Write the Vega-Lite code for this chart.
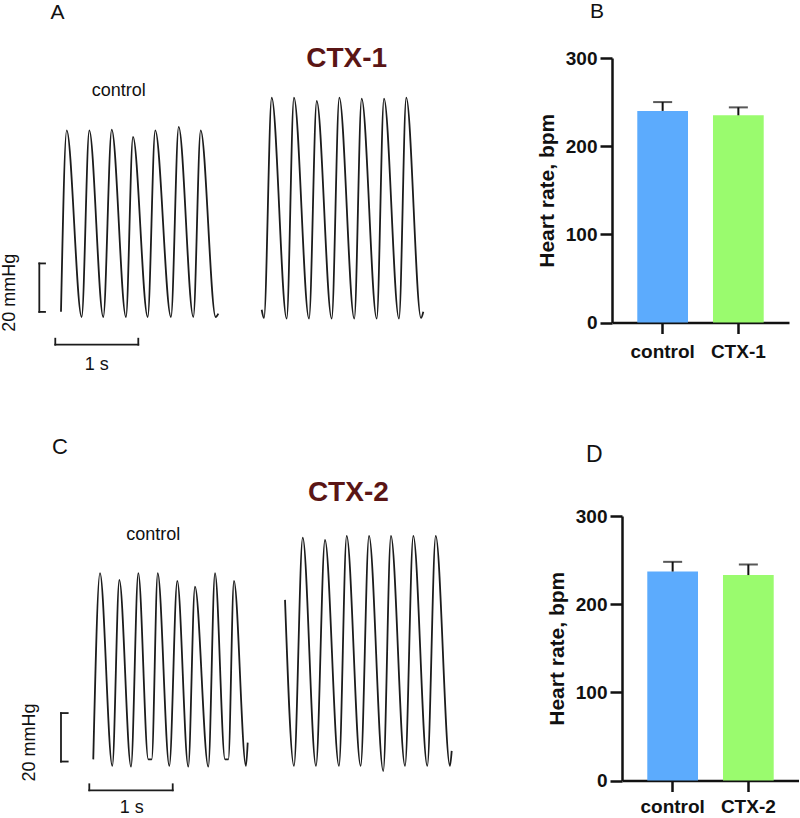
{
  "$schema": "https://vega.github.io/schema/vega-lite/v6.json",
  "padding": 0,
  "background": "white",
  "config": {"view": {"stroke": null}, "font": "Liberation Sans"},
  "datasets": {
    "traceA": [
      {"series": "control", "t": 0.737, "p": 5.9}, {"series": "control", "t": 0.806, "p": 80.7},
      {"series": "control", "t": 0.987, "p": 3.7}, {"series": "control", "t": 1.079, "p": 80.7},
      {"series": "control", "t": 1.248, "p": 3.7}, {"series": "control", "t": 1.35, "p": 81.0},
      {"series": "control", "t": 1.522, "p": 3.7}, {"series": "control", "t": 1.607, "p": 78.0},
      {"series": "control", "t": 1.785, "p": 3.7}, {"series": "control", "t": 1.876, "p": 80.7},
      {"series": "control", "t": 2.066, "p": 3.7}, {"series": "control", "t": 2.159, "p": 82.1},
      {"series": "control", "t": 2.336, "p": 3.7}, {"series": "control", "t": 2.425, "p": 80.7},
      {"series": "control", "t": 2.606, "p": 3.7}, {"series": "control", "t": 2.638, "p": 5.1},
      {"series": "CTX-1", "t": 3.162, "p": 6.7}, {"series": "CTX-1", "t": 3.19, "p": 3.3},
      {"series": "CTX-1", "t": 3.283, "p": 94.2}, {"series": "CTX-1", "t": 3.464, "p": 3.0},
      {"series": "CTX-1", "t": 3.552, "p": 94.2}, {"series": "CTX-1", "t": 3.734, "p": 3.0},
      {"series": "CTX-1", "t": 3.827, "p": 92.8}, {"series": "CTX-1", "t": 4.008, "p": 3.0},
      {"series": "CTX-1", "t": 4.1, "p": 94.2}, {"series": "CTX-1", "t": 4.281, "p": 3.0},
      {"series": "CTX-1", "t": 4.37, "p": 93.8}, {"series": "CTX-1", "t": 4.552, "p": 3.0},
      {"series": "CTX-1", "t": 4.64, "p": 93.8}, {"series": "CTX-1", "t": 4.821, "p": 3.0},
      {"series": "CTX-1", "t": 4.909, "p": 94.2}, {"series": "CTX-1", "t": 5.087, "p": 3.3},
      {"series": "CTX-1", "t": 5.115, "p": 5.9}
    ],
    "traceC": [
      {"series": "control", "t": 1.127, "p": 6.4}, {"series": "control", "t": 1.208, "p": 83.2},
      {"series": "control", "t": 1.357, "p": 3.7}, {"series": "control", "t": 1.442, "p": 80.4},
      {"series": "control", "t": 1.583, "p": 3.4}, {"series": "control", "t": 1.671, "p": 83.2},
      {"series": "control", "t": 1.792, "p": 6.4}, {"series": "control", "t": 1.833, "p": 6.4},
      {"series": "control", "t": 1.906, "p": 83.2}, {"series": "control", "t": 2.046, "p": 3.7},
      {"series": "control", "t": 2.142, "p": 80.0}, {"series": "control", "t": 2.275, "p": 3.4},
      {"series": "control", "t": 2.356, "p": 77.7}, {"series": "control", "t": 2.517, "p": 3.4},
      {"series": "control", "t": 2.598, "p": 83.2}, {"series": "control", "t": 2.719, "p": 6.4},
      {"series": "control", "t": 2.759, "p": 6.4}, {"series": "control", "t": 2.827, "p": 80.0},
      {"series": "control", "t": 2.972, "p": 3.7}, {"series": "control", "t": 2.993, "p": 13.3},
      {"series": "CTX-2", "t": 3.444, "p": 72.2}, {"series": "CTX-2", "t": 3.552, "p": 3.7},
      {"series": "CTX-2", "t": 3.658, "p": 97.9}, {"series": "CTX-2", "t": 3.818, "p": 3.7},
      {"series": "CTX-2", "t": 3.927, "p": 96.9}, {"series": "CTX-2", "t": 4.096, "p": 3.7},
      {"series": "CTX-2", "t": 4.189, "p": 98.6}, {"series": "CTX-2", "t": 4.358, "p": 3.7},
      {"series": "CTX-2", "t": 4.459, "p": 98.6}, {"series": "CTX-2", "t": 4.631, "p": 1.6},
      {"series": "CTX-2", "t": 4.724, "p": 98.6}, {"series": "CTX-2", "t": 4.894, "p": 3.7},
      {"series": "CTX-2", "t": 4.994, "p": 98.6}, {"series": "CTX-2", "t": 5.163, "p": 3.7},
      {"series": "CTX-2", "t": 5.265, "p": 98.6}, {"series": "CTX-2", "t": 5.437, "p": 3.7},
      {"series": "CTX-2", "t": 5.458, "p": 9.9}
    ],
    "barB": [
      {"group": "control", "hr": 240, "upper": 250},
      {"group": "CTX-1", "hr": 235, "upper": 244}
    ],
    "barD": [
      {"group": "control", "hr": 237, "upper": 248},
      {"group": "CTX-2", "hr": 233, "upper": 245}
    ]
  },
  "resolve": {"scale": {"x": "independent", "y": "independent", "color": "independent"}},
  "spacing": 37,
  "vconcat": [
    {
      "spacing": 56,
      "resolve": {"scale": {"x": "independent", "y": "independent", "color": "independent"}},
      "hconcat": [
        {
          "width": 480,
          "height": 340.7,
          "layer": [
            {"data": {"name": "traceA"}, "mark": {"type": "line", "interpolate": "monotone", "color": "#1c1c1c", "strokeWidth": 1.8},
             "encoding": {"x": {"field": "t", "type": "quantitative", "scale": {"domain": [0, 5.8], "nice": false, "zero": false}, "axis": null},
                          "y": {"field": "p", "type": "quantitative", "scale": {"domain": [-30, 110.54], "nice": false, "zero": false}, "axis": null},
                          "detail": {"field": "series"}}},
            {"data": {"values": [{}]}, "mark": {"type": "rule", "color": "#1c1c1c", "strokeWidth": 1.8, "strokeCap": "square"},
             "encoding": {"x": {"datum": 0.475, "type": "quantitative", "scale": {"domain": [0, 5.8], "nice": false, "zero": false}, "axis": null},
                          "y": {"datum": 5.8, "type": "quantitative", "scale": {"domain": [-30, 110.54], "nice": false, "zero": false}, "axis": null},
                          "y2": {"datum": 25.8}}},
            {"data": {"values": [{}]}, "mark": {"type": "rule", "color": "#1c1c1c", "strokeWidth": 1.8, "strokeCap": "square"},
             "encoding": {"x": {"datum": 0.475, "type": "quantitative", "scale": {"domain": [0, 5.8], "nice": false, "zero": false}, "axis": null},
                          "x2": {"datum": 0.544},
                          "y": {"datum": 25.8, "type": "quantitative", "scale": {"domain": [-30, 110.54], "nice": false, "zero": false}, "axis": null}}},
            {"data": {"values": [{}]}, "mark": {"type": "rule", "color": "#1c1c1c", "strokeWidth": 1.8, "strokeCap": "square"},
             "encoding": {"x": {"datum": 0.475, "type": "quantitative", "scale": {"domain": [0, 5.8], "nice": false, "zero": false}, "axis": null},
                          "x2": {"datum": 0.544},
                          "y": {"datum": 5.8, "type": "quantitative", "scale": {"domain": [-30, 110.54], "nice": false, "zero": false}, "axis": null}}},
            {"data": {"values": [{}]}, "mark": {"type": "rule", "color": "#1c1c1c", "strokeWidth": 1.8, "strokeCap": "square"},
             "encoding": {"x": {"datum": 0.668, "type": "quantitative", "scale": {"domain": [0, 5.8], "nice": false, "zero": false}, "axis": null},
                          "x2": {"datum": 1.671},
                          "y": {"datum": -7.72, "type": "quantitative", "scale": {"domain": [-30, 110.54], "nice": false, "zero": false}, "axis": null}}},
            {"data": {"values": [{}]}, "mark": {"type": "rule", "color": "#1c1c1c", "strokeWidth": 1.8, "strokeCap": "square"},
             "encoding": {"x": {"datum": 0.668, "type": "quantitative", "scale": {"domain": [0, 5.8], "nice": false, "zero": false}, "axis": null},
                          "y": {"datum": -7.72, "type": "quantitative", "scale": {"domain": [-30, 110.54], "nice": false, "zero": false}, "axis": null},
                          "y2": {"datum": -5.25}}},
            {"data": {"values": [{}]}, "mark": {"type": "rule", "color": "#1c1c1c", "strokeWidth": 1.8, "strokeCap": "square"},
             "encoding": {"x": {"datum": 1.671, "type": "quantitative", "scale": {"domain": [0, 5.8], "nice": false, "zero": false}, "axis": null},
                          "y": {"datum": -7.72, "type": "quantitative", "scale": {"domain": [-30, 110.54], "nice": false, "zero": false}, "axis": null},
                          "y2": {"datum": -5.25}}},
            {"data": {"values": [{}]}, "mark": {"type": "text", "text": "A", "font": "Liberation Sans", "fontSize": 21, "color": "#111111", "baseline": "middle", "align": "center"},
             "encoding": {"x": {"datum": 0.695, "type": "quantitative", "scale": {"domain": [0, 5.8], "nice": false, "zero": false}, "axis": null},
                          "y": {"datum": 129.3, "type": "quantitative", "scale": {"domain": [-30, 110.54], "nice": false, "zero": false}, "axis": null}}},
            {"data": {"values": [{}]}, "mark": {"type": "text", "text": "control", "font": "Liberation Sans", "fontSize": 18, "color": "#111111", "baseline": "middle", "align": "center"},
             "encoding": {"x": {"datum": 1.435, "type": "quantitative", "scale": {"domain": [0, 5.8], "nice": false, "zero": false}, "axis": null},
                          "y": {"datum": 96.76, "type": "quantitative", "scale": {"domain": [-30, 110.54], "nice": false, "zero": false}, "axis": null}}},
            {"data": {"values": [{}]}, "mark": {"type": "text", "text": "CTX-1", "font": "Liberation Sans", "fontSize": 28, "fontWeight": "bold", "color": "#5a1515", "baseline": "middle", "align": "center"},
             "encoding": {"x": {"datum": 4.189, "type": "quantitative", "scale": {"domain": [0, 5.8], "nice": false, "zero": false}, "axis": null},
                          "y": {"datum": 110.25, "type": "quantitative", "scale": {"domain": [-30, 110.54], "nice": false, "zero": false}, "axis": null}}},
            {"data": {"values": [{}]}, "mark": {"type": "text", "text": "1 s", "font": "Liberation Sans", "fontSize": 18, "color": "#111111", "baseline": "middle", "align": "center"},
             "encoding": {"x": {"datum": 1.168, "type": "quantitative", "scale": {"domain": [0, 5.8], "nice": false, "zero": false}, "axis": null},
                          "y": {"datum": -16.26, "type": "quantitative", "scale": {"domain": [-30, 110.54], "nice": false, "zero": false}, "axis": null}}},
            {"data": {"values": [{}]}, "mark": {"type": "text", "text": "20 mmHg", "font": "Liberation Sans", "fontSize": 18, "color": "#111111", "baseline": "middle", "align": "center", "angle": 270},
             "encoding": {"x": {"datum": 0.121, "type": "quantitative", "scale": {"domain": [0, 5.8], "nice": false, "zero": false}, "axis": null},
                          "y": {"datum": 13.73, "type": "quantitative", "scale": {"domain": [-30, 110.54], "nice": false, "zero": false}, "axis": null}}}
          ]
        },
        {
          "width": 177,
          "height": 264.5,
          "title": {"text": "B", "anchor": "start", "frame": "group", "dx": -22, "offset": 10.5, "fontSize": 21, "fontWeight": "normal", "font": "Liberation Sans", "baseline": "alphabetic", "color": "#111111"},
          "data": {"name": "barB"},
          "encoding": {
            "x": {"field": "group", "type": "nominal", "sort": null, "scale": {"paddingInner": 0.33, "paddingOuter": 0.334},
                  "axis": {"title": null, "labelAngle": 0, "labelFont": "Liberation Sans", "labelFontSize": 19, "labelFontWeight": "bold", "labelColor": "#111111", "labelPadding": 9, "tickSize": 11, "tickWidth": 2.5, "tickColor": "#111111", "domainWidth": 2.5, "domainColor": "#111111", "grid": false}}
          },
          "layer": [
            {"mark": {"type": "bar"},
             "encoding": {
               "y": {"field": "hr", "type": "quantitative", "scale": {"domain": [0, 300], "nice": false},
                     "axis": {"title": "Heart rate, bpm", "values": [0, 100, 200, 300], "titleFont": "Liberation Sans", "titleFontSize": 21, "titleFontWeight": "bold", "titleColor": "#111111", "titlePadding": 8, "labelFont": "Liberation Sans", "labelFontSize": 19, "labelFontWeight": "bold", "labelColor": "#111111", "labelPadding": 3, "tickSize": 12, "tickWidth": 2.5, "tickColor": "#111111", "domainWidth": 2.5, "domainColor": "#111111", "grid": false}},
               "color": {"field": "group", "type": "nominal", "scale": {"domain": ["control", "CTX-1", "CTX-2"], "range": ["#5cabfd", "#9afb6e", "#9afb6e"]}, "legend": null}
             }},
            {"mark": {"type": "rule", "color": "#111111", "strokeWidth": 2},
             "encoding": {"y": {"field": "hr", "type": "quantitative"}, "y2": {"field": "upper"}}},
            {"mark": {"type": "tick", "color": "#111111", "size": 19, "thickness": 2},
             "encoding": {"y": {"field": "upper", "type": "quantitative"}}}
          ]
        }
      ]
    },
    {
      "spacing": 66,
      "resolve": {"scale": {"x": "independent", "y": "independent", "color": "independent"}},
      "hconcat": [
        {
          "width": 480,
          "height": 301.3,
          "layer": [
            {"data": {"name": "traceC"}, "mark": {"type": "line", "interpolate": "monotone", "color": "#1c1c1c", "strokeWidth": 1.8},
             "encoding": {"x": {"field": "t", "type": "quantitative", "scale": {"domain": [0, 5.8], "nice": false, "zero": false}, "axis": null},
                          "y": {"field": "p", "type": "quantitative", "scale": {"domain": [-17.5, 106.8], "nice": false, "zero": false}, "axis": null},
                          "detail": {"field": "series"}}},
            {"data": {"values": [{}]}, "mark": {"type": "rule", "color": "#1c1c1c", "strokeWidth": 1.8, "strokeCap": "square"},
             "encoding": {"x": {"datum": 0.737, "type": "quantitative", "scale": {"domain": [0, 5.8], "nice": false, "zero": false}, "axis": null},
                          "y": {"datum": 5.5, "type": "quantitative", "scale": {"domain": [-17.5, 106.8], "nice": false, "zero": false}, "axis": null},
                          "y2": {"datum": 25.5}}},
            {"data": {"values": [{}]}, "mark": {"type": "rule", "color": "#1c1c1c", "strokeWidth": 1.8, "strokeCap": "square"},
             "encoding": {"x": {"datum": 0.737, "type": "quantitative", "scale": {"domain": [0, 5.8], "nice": false, "zero": false}, "axis": null},
                          "x2": {"datum": 0.818},
                          "y": {"datum": 25.5, "type": "quantitative", "scale": {"domain": [-17.5, 106.8], "nice": false, "zero": false}, "axis": null}}},
            {"data": {"values": [{}]}, "mark": {"type": "rule", "color": "#1c1c1c", "strokeWidth": 1.8, "strokeCap": "square"},
             "encoding": {"x": {"datum": 0.737, "type": "quantitative", "scale": {"domain": [0, 5.8], "nice": false, "zero": false}, "axis": null},
                          "x2": {"datum": 0.818},
                          "y": {"datum": 5.5, "type": "quantitative", "scale": {"domain": [-17.5, 106.8], "nice": false, "zero": false}, "axis": null}}},
            {"data": {"values": [{}]}, "mark": {"type": "rule", "color": "#1c1c1c", "strokeWidth": 1.8, "strokeCap": "square"},
             "encoding": {"x": {"datum": 1.079, "type": "quantitative", "scale": {"domain": [0, 5.8], "nice": false, "zero": false}, "axis": null},
                          "x2": {"datum": 2.087},
                          "y": {"datum": -6.36, "type": "quantitative", "scale": {"domain": [-17.5, 106.8], "nice": false, "zero": false}, "axis": null}}},
            {"data": {"values": [{}]}, "mark": {"type": "rule", "color": "#1c1c1c", "strokeWidth": 1.8, "strokeCap": "square"},
             "encoding": {"x": {"datum": 1.079, "type": "quantitative", "scale": {"domain": [0, 5.8], "nice": false, "zero": false}, "axis": null},
                          "y": {"datum": -6.36, "type": "quantitative", "scale": {"domain": [-17.5, 106.8], "nice": false, "zero": false}, "axis": null},
                          "y2": {"datum": -3.88}}},
            {"data": {"values": [{}]}, "mark": {"type": "rule", "color": "#1c1c1c", "strokeWidth": 1.8, "strokeCap": "square"},
             "encoding": {"x": {"datum": 2.087, "type": "quantitative", "scale": {"domain": [0, 5.8], "nice": false, "zero": false}, "axis": null},
                          "y": {"datum": -6.36, "type": "quantitative", "scale": {"domain": [-17.5, 106.8], "nice": false, "zero": false}, "axis": null},
                          "y2": {"datum": -3.88}}},
            {"data": {"values": [{}]}, "mark": {"type": "text", "text": "C", "font": "Liberation Sans", "fontSize": 22, "color": "#111111", "baseline": "middle", "align": "center"},
             "encoding": {"x": {"datum": 0.725, "type": "quantitative", "scale": {"domain": [0, 5.8], "nice": false, "zero": false}, "axis": null},
                          "y": {"datum": 135.16, "type": "quantitative", "scale": {"domain": [-17.5, 106.8], "nice": false, "zero": false}, "axis": null}}},
            {"data": {"values": [{}]}, "mark": {"type": "text", "text": "control", "font": "Liberation Sans", "fontSize": 18, "color": "#111111", "baseline": "middle", "align": "center"},
             "encoding": {"x": {"datum": 1.852, "type": "quantitative", "scale": {"domain": [0, 5.8], "nice": false, "zero": false}, "axis": null},
                          "y": {"datum": 98.85, "type": "quantitative", "scale": {"domain": [-17.5, 106.8], "nice": false, "zero": false}, "axis": null}}},
            {"data": {"values": [{}]}, "mark": {"type": "text", "text": "CTX-2", "font": "Liberation Sans", "fontSize": 28, "fontWeight": "bold", "color": "#5a1515", "baseline": "middle", "align": "center"},
             "encoding": {"x": {"datum": 4.209, "type": "quantitative", "scale": {"domain": [0, 5.8], "nice": false, "zero": false}, "axis": null},
                          "y": {"datum": 116.18, "type": "quantitative", "scale": {"domain": [-17.5, 106.8], "nice": false, "zero": false}, "axis": null}}},
            {"data": {"values": [{}]}, "mark": {"type": "text", "text": "1 s", "font": "Liberation Sans", "fontSize": 18, "color": "#111111", "baseline": "middle", "align": "center"},
             "encoding": {"x": {"datum": 1.591, "type": "quantitative", "scale": {"domain": [0, 5.8], "nice": false, "zero": false}, "axis": null},
                          "y": {"datum": -13.79, "type": "quantitative", "scale": {"domain": [-17.5, 106.8], "nice": false, "zero": false}, "axis": null}}},
            {"data": {"values": [{}]}, "mark": {"type": "text", "text": "20 mmHg", "font": "Liberation Sans", "fontSize": 18, "color": "#111111", "baseline": "middle", "align": "center", "angle": 270},
             "encoding": {"x": {"datum": 0.362, "type": "quantitative", "scale": {"domain": [0, 5.8], "nice": false, "zero": false}, "axis": null},
                          "y": {"datum": 13.32, "type": "quantitative", "scale": {"domain": [-17.5, 106.8], "nice": false, "zero": false}, "axis": null}}}
          ]
        },
        {
          "width": 177,
          "height": 264.5,
          "title": {"text": "D", "anchor": "start", "frame": "group", "dx": -36, "offset": 22, "fontSize": 23, "fontWeight": "normal", "font": "Liberation Sans", "baseline": "alphabetic", "color": "#111111"},
          "data": {"name": "barD"},
          "encoding": {
            "x": {"field": "group", "type": "nominal", "sort": null, "scale": {"paddingInner": 0.33, "paddingOuter": 0.334},
                  "axis": {"title": null, "labelAngle": 0, "labelFont": "Liberation Sans", "labelFontSize": 19, "labelFontWeight": "bold", "labelColor": "#111111", "labelPadding": 6, "tickSize": 11, "tickWidth": 2.5, "tickColor": "#111111", "domainWidth": 2.5, "domainColor": "#111111", "grid": false}}
          },
          "layer": [
            {"mark": {"type": "bar"},
             "encoding": {
               "y": {"field": "hr", "type": "quantitative", "scale": {"domain": [0, 300], "nice": false},
                     "axis": {"title": "Heart rate, bpm", "values": [0, 100, 200, 300], "titleFont": "Liberation Sans", "titleFontSize": 21, "titleFontWeight": "bold", "titleColor": "#111111", "titlePadding": 8, "labelFont": "Liberation Sans", "labelFontSize": 19, "labelFontWeight": "bold", "labelColor": "#111111", "labelPadding": 3, "tickSize": 12, "tickWidth": 2.5, "tickColor": "#111111", "domainWidth": 2.5, "domainColor": "#111111", "grid": false}},
               "color": {"field": "group", "type": "nominal", "scale": {"domain": ["control", "CTX-1", "CTX-2"], "range": ["#5cabfd", "#9afb6e", "#9afb6e"]}, "legend": null}
             }},
            {"mark": {"type": "rule", "color": "#111111", "strokeWidth": 2},
             "encoding": {"y": {"field": "hr", "type": "quantitative"}, "y2": {"field": "upper"}}},
            {"mark": {"type": "tick", "color": "#111111", "size": 19, "thickness": 2},
             "encoding": {"y": {"field": "upper", "type": "quantitative"}}}
          ]
        }
      ]
    }
  ]
}
